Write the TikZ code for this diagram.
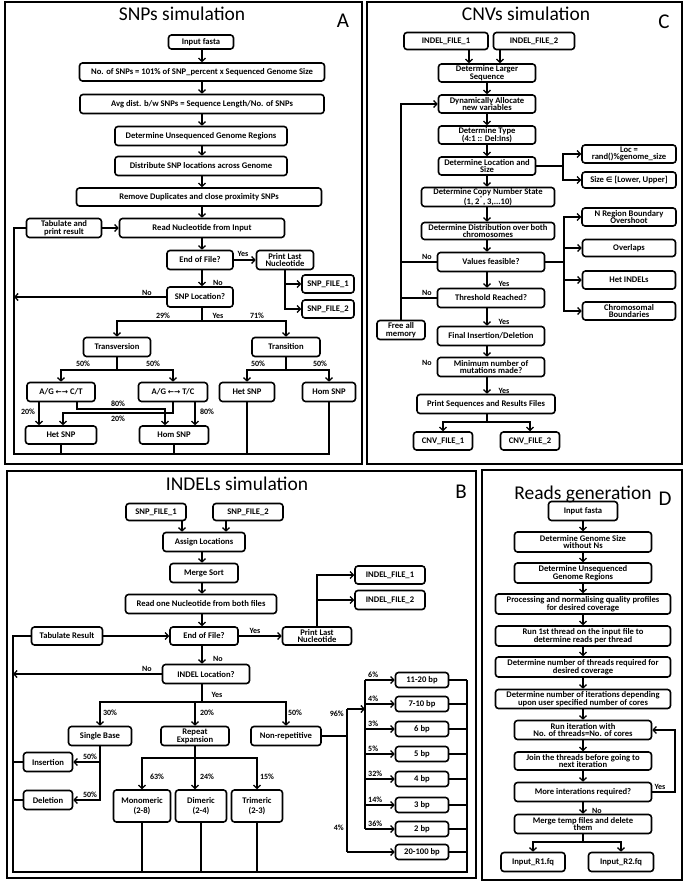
\documentclass[tikz,border=0pt]{standalone}
\usepackage{fontspec}
\setmainfont{Carlito}
\newfontfamily\djv{DejaVu Sans}
\usetikzlibrary{arrows.meta}
\newcommand\bxf{\bfseries\fontsize{8.6}{7.8}\selectfont}
\newcommand\lbf{\bfseries\fontsize{8}{8}\selectfont}
\newcommand\ttf{\fontsize{19.5}{20}\selectfont}
\newcommand\ltf{\fontsize{21}{21}\selectfont}
\newcommand\lra{{\djv\bfseries\fontsize{7.4}{7}\selectfont ←→}}
\tikzset{
 box/.style={draw, rounded corners=3pt, line width=1.6pt, align=center, font=\bxf, inner sep=0pt},
 wh/.style 2 args={minimum width=#1pt, minimum height=#2pt},
 arr/.style={line width=1.3pt, -{Straight Barb[length=3.2pt,width=7pt]}},
 ln/.style={line width=1.3pt},
 lab/.style={font=\lbf, inner sep=0pt},
 frm/.style={line width=2.6pt},
 ttl/.style={font=\ttf, inner sep=0pt, anchor=base},
 ltr/.style={font=\ltf, inner sep=0pt, anchor=base}
}
\begin{document}
\begin{tikzpicture}[x=1pt,y=-1pt]
\useasboundingbox (0,0) rectangle (685,888);
\fill[white] (0,0) rectangle (685,888);
% frames
\draw[frm] (5,2) rectangle (362,464);
\draw[frm] (367,2) rectangle (682,464);
\draw[frm] (7,471) rectangle (476,878);
\draw[frm] (482,470) rectangle (682,880);
% titles
\node[ttl] (tA) at (182,20.5) {SNPs simulation};
\node[ltr] (lA) at (343,28) {A};
\node[ttl] (tC) at (526,20.5) {CNVs simulation};
\node[ltr] (lC) at (664,29) {C};
\node[ttl] (tB) at (237,490) {INDELs simulation};
\node[ltr] (lB) at (461,498) {B};
\node[ttl] (tD) at (583,499) {Reads generation};
\node[ltr] (lD) at (665,505) {D};

% ================= Panel A
\coordinate (aX) at (202,0);
\node[box,wh={65}{14}] (a1) at (201,42) {Input fasta};
\node[box,wh={245}{18}] (a2) at (202,72) {No. of SNPs = 101\% of SNP\_percent x Sequenced Genome Size};
\node[box,wh={244}{19}] (a3) at (202,104) {Avg dist. b/w SNPs = Sequence Length/No. of SNPs};
\node[box,wh={172}{19}] (a4) at (201,136) {Determine Unsequenced Genome Regions};
\node[box,wh={172}{19}] (a5) at (201,166) {Distribute SNP locations across Genome};
\node[box,wh={245}{18}] (a6) at (199,197) {Remove Duplicates and close proximity SNPs};
\node[box,wh={75}{19}] (aTab) at (64,228) {Tabulate and\\print result};
\node[box,wh={165}{19}] (aRead) at (202,228) {Read Nucleotide from Input};
\node[box,wh={66}{19}] (aEOF) at (200,260) {End of File?};
\node[box,wh={57}{19}] (aPrint) at (285,260) {Print Last\\Nucleotide};
\node[box,wh={52}{18}] (aF1) at (328,284) {SNP\_FILE\_1};
\node[box,wh={52}{18}] (aF2) at (328,309) {SNP\_FILE\_2};
\node[box,wh={66}{20}] (aLoc) at (200,297) {SNP Location?};
\node[box,wh={67}{19}] (aTv) at (117,347) {Transversion};
\node[box,wh={68}{19}] (aTs) at (286,347) {Transition};
\node[box,wh={68}{19}] (aCT) at (61,392) {A/G \lra{} C/T};
\node[box,wh={69}{19}] (aTC) at (173,392) {A/G \lra{} T/C};
\node[box,wh={55}{19}] (aHet2) at (247,392) {Het SNP};
\node[box,wh={53}{19}] (aHom2) at (329,392) {Hom SNP};
\node[box,wh={71}{18}] (aHet1) at (61,435) {Het SNP};
\node[box,wh={69}{18}] (aHom1) at (174,435) {Hom SNP};

\foreach \p/\q in {a1/a2,a2/a3,a3/a4,a4/a5,a5/a6,a6/aRead,aRead/aEOF,aEOF/aLoc}
  \draw[arr] (\p.south -| aX) -- (\q.north -| aX);
\draw[arr] (aTab) -- (aRead);
\draw[arr] (aEOF) -- (aPrint);
\draw[arr] (aPrint.south) |- (aF1);
\draw[arr] (aPrint.south) |- (aF2);
\coordinate (aLx) at (14,454);
\draw[arr] (aLoc.west) -- (aLoc.west -| aLx);
\draw[ln] (aTab.west) -| (aLx) -- (aHom2.south |- aLx) -- (aHom2.south);
\draw[ln] (aHet1.south) -- (aHet1.south |- aLx);
\draw[ln] (aHom1.south) -- (aHom1.south |- aLx);
\draw[ln] (aHet2.south) -- (aHet2.south |- aLx);
\coordinate (aS1) at (202,321);
\draw[ln] (aLoc.south -| aS1) -- (aS1);
\draw[arr] (aS1) -| (aTv);
\draw[arr] (aS1) -| (aTs);
\coordinate (aS2) at (117,370);
\draw[ln] (aTv.south) -- (aS2);
\draw[arr] (aS2) -| (aCT);
\draw[arr] (aS2) -| (aTC);
\coordinate (aS3) at (286,370);
\draw[ln] (aTs.south) -- (aS3);
\draw[arr] (aS3) -| (aHet2);
\draw[arr] (aS3) -| (aHom2);
\draw[arr] ([xshift=-22pt]aCT.south) -- ([xshift=-22pt]aCT.south |- aHet1.north);
\coordinate (aM1) at (165,409);
\draw[arr] ([xshift=16pt]aCT.south) |- (aM1) -- (aM1 |- aHom1.north);
\coordinate (aM2) at (63,413);
\draw[arr] (aTC.south) |- (aM2) -- (aM2 |- aHet1.north);
\draw[arr] ([xshift=22pt]aTC.south) -- ([xshift=22pt]aTC.south |- aHom1.north);

\node[lab] (lA1) at (243,254) {Yes};
\node[lab] (lA2) at (218,283) {No};
\node[lab] (lA3) at (147,293) {No};
\node[lab] (lA4) at (163,316) {29\%};
\node[lab] (lA5) at (218,316) {Yes};
\node[lab] (lA6) at (257,316) {71\%};
\node[lab] (lA7) at (83,364) {50\%};
\node[lab] (lA8) at (153,364) {50\%};
\node[lab] (lA9) at (258,364) {50\%};
\node[lab] (lA10) at (320,364) {50\%};
\node[lab] (lA11) at (28,412) {20\%};
\node[lab] (lA12) at (118,404) {80\%};
\node[lab] (lA13) at (118,419) {20\%};
\node[lab] (lA14) at (207,412) {80\%};

% ================= Panel C
\coordinate (cX) at (487,0);
\node[box,wh={84}{17}] (cF1) at (446,41) {INDEL\_FILE\_1};
\node[box,wh={81}{17}] (cF2) at (534,41) {INDEL\_FILE\_2};
\node[box,wh={97}{18}] (cLarge) at (487,73) {Determine Larger\\Sequence};
\node[box,wh={97}{18}] (cDyn) at (487,104) {Dynamically Allocate\\new variables};
\node[box,wh={97}{18}] (cType) at (487,135) {Determine Type\\(4:1 :: Del:Ins)};
\node[box,wh={97}{18}] (cLocS) at (487,166) {Determine Location and\\Size};
\node[box,wh={94}{18}] (cLoc) at (629,154) {Loc =\\rand()\%genome\_size};
\node[box,wh={94}{16}] (cSize) at (629,180) {Size {\djv\bfseries\fontsize{7.4}{7}\selectfont ∈} [Lower, Upper]};
\node[box,wh={133}{19}] (cCopy) at (488,197) {Determine Copy Number State\\(1, 2\textsuperscript{*}, 3,...10)};
\node[box,wh={94}{18}] (cNreg) at (629,217) {N Region Boundary\\Overshoot};
\node[box,wh={133}{17}] (cDist) at (488,231) {Determine Distribution over both\\chromosomes};
\node[box,wh={107}{19}] (cVal) at (491,262) {Values feasible?};
\node[box,wh={93}{17}] (cOver) at (629,248) {Overlaps};
\node[box,wh={93}{18}] (cHet) at (629,280) {Het INDELs};
\node[box,wh={93}{18}] (cChr) at (629,311) {Chromosomal\\Boundaries};
\node[box,wh={107}{19}] (cThr) at (491,298) {Threshold Reached?};
\node[box,wh={48}{19}] (cFree) at (401,330) {Free all\\memory};
\node[box,wh={107}{19}] (cFin) at (491,336) {Final Insertion/Deletion};
\node[box,wh={107}{19}] (cMin) at (491,367) {Minimum number of\\mutations made?};
\node[box,wh={138}{19}] (cPrint) at (486,404) {Print Sequences and Results Files};
\node[box,wh={59}{18}] (cCNV1) at (443,441) {CNV\_FILE\_1};
\node[box,wh={59}{18}] (cCNV2) at (530,441) {CNV\_FILE\_2};

\draw[arr] ([xshift=23pt]cF1.south) -- ([xshift=23pt]cF1.south |- cLarge.north);
\draw[arr] ([xshift=-34pt]cF2.south) -- ([xshift=-34pt]cF2.south |- cLarge.north);
\foreach \p/\q in {cLarge/cDyn,cDyn/cType,cType/cLocS,cLocS/cCopy,cCopy/cDist,cDist/cVal,cVal/cThr,cThr/cFin,cFin/cMin,cMin/cPrint}
  \draw[arr] (\p.south -| cX) -- (\q.north -| cX);
\coordinate (cB1) at (563,166);
\draw[ln] (cLocS.east) -- (cB1);
\draw[arr] (cB1) |- (cLoc);
\draw[arr] (cB1) |- (cSize);
\coordinate (cB2) at (564,262);
\draw[ln] (cVal.east) -- (cB2);
\foreach \t in {cNreg,cOver,cHet,cChr} \draw[arr] (cB2) |- (\t);
\draw[arr] (cFree.north) |- (cDyn.west);
\draw[ln] (cVal.west) -- (cVal.west -| cFree.north);
\draw[ln] (cThr.west) -- (cThr.west -| cFree.north);
\coordinate (cS) at (487,422);
\draw[ln] (cPrint.south -| cS) -- (cS);
\draw[arr] (cS) -| (cCNV1);
\draw[arr] (cS) -| (cCNV2);
\node[lab] (lC1) at (427,257) {No};
\node[lab] (lC2) at (427,293) {No};
\node[lab] (lC3) at (427,363) {No};
\node[lab] (lC4) at (504,284) {Yes};
\node[lab] (lC5) at (504,322) {Yes};
\node[lab] (lC6) at (504,391) {Yes};

% ================= Panel B
\coordinate (bX) at (202,0);
\node[box,wh={60}{17}] (bF1) at (156,512) {SNP\_FILE\_1};
\node[box,wh={70}{17}] (bF2) at (248,512) {SNP\_FILE\_2};
\node[box,wh={82}{19}] (bAssign) at (204,542) {Assign Locations};
\node[box,wh={68}{19}] (bMerge) at (204,573) {Merge Sort};
\node[box,wh={151}{19}] (bRead) at (201,604) {Read one Nucleotide from both files};
\node[box,wh={68}{18}] (bEOF) at (204,636) {End of File?};
\node[box,wh={71}{18}] (bTab) at (67,636) {Tabulate Result};
\node[box,wh={69}{18}] (bPrint) at (317,636) {Print Last\\Nucleotide};
\node[box,wh={70}{18}] (bI1) at (390,575) {INDEL\_FILE\_1};
\node[box,wh={70}{19}] (bI2) at (390,600) {INDEL\_FILE\_2};
\node[box,wh={87}{19}] (bLoc) at (206,674) {INDEL Location?};
\node[box,wh={63}{19}] (bSingle) at (100,736) {Single Base};
\node[box,wh={68}{19}] (bRep) at (195,736) {Repeat\\Expansion};
\node[box,wh={70}{19}] (bNon) at (286,736) {Non-repetitive};
\node[box,wh={49}{19}] (bIns) at (48,762) {Insertion};
\node[box,wh={49}{19}] (bDel) at (48,800) {Deletion};
\node[box,wh={57}{32}] (bMono) at (142,806) {Monomeric\\[1.5pt](2-8)};
\node[box,wh={51}{32}] (bDi) at (201,806) {Dimeric\\[1.5pt](2-4)};
\node[box,wh={51}{32}] (bTri) at (257,806) {Trimeric\\[1.5pt](2-3)};
\node[box,wh={53}{15}] (b11) at (422,680) {11-20 bp};
\node[box,wh={53}{15}] (b7) at (422,704) {7-10 bp};
\node[box,wh={53}{15}] (b6) at (422,729) {6 bp};
\node[box,wh={53}{15}] (b5) at (422,754) {5 bp};
\node[box,wh={53}{15}] (b4) at (422,779) {4 bp};
\node[box,wh={53}{15}] (b3) at (422,805) {3 bp};
\node[box,wh={53}{15}] (b2) at (422,829) {2 bp};
\node[box,wh={53}{15}] (b20) at (422,852) {20-100 bp};

\draw[arr] ([xshift=26pt]bF1.south) -- ([xshift=26pt]bF1.south |- bAssign.north);
\draw[arr] ([xshift=-22pt]bF2.south) -- ([xshift=-22pt]bF2.south |- bAssign.north);
\foreach \p/\q in {bAssign/bMerge,bMerge/bRead,bRead/bEOF,bEOF/bLoc}
  \draw[arr] (\p.south -| bX) -- (\q.north -| bX);
\draw[arr] (bTab) -- (bEOF);
\draw[arr] (bEOF) -- (bPrint);
\draw[arr] (bPrint.north) |- (bI1);
\draw[arr] (bPrint.north) |- (bI2);
\coordinate (bLx) at (13,872);
\coordinate (bRx) at (467,872);
\draw[arr] (bLoc.west) -- (bLoc.west -| bLx);
\draw[ln] (bTab.west) -| (bLx) -- (bRx) -- (bRx |- b11.east);
\draw[ln] (bIns.west) -- (bIns.west -| bLx);
\draw[ln] (bDel.west) -- (bDel.west -| bLx);
\foreach \t in {bMono,bDi,bTri} \draw[ln] (\t.south) -- (\t.south |- bLx);
\foreach \t in {b11,b7,b6,b5,b4,b3,b2,b20} \draw[ln] (\t.east) -- (\t.east -| bRx);
\coordinate (bS1) at (202,702);
\draw[ln] (bLoc.south -| bS1) -- (bS1);
\draw[arr] (bS1) -| (bSingle);
\draw[arr] (bS1) -| (bRep);
\draw[arr] (bS1) -| (bNon);
\draw[arr] (bSingle.south) |- (bIns);
\draw[arr] (bSingle.south) |- (bDel);
\coordinate (bS2) at (195,758);
\draw[ln] (bRep.south) -- (bS2);
\draw[arr] (bS2) -| (bMono);
\draw[arr] (bS2) -| (bTri);
\draw[arr] (bS2) -- (bS2 |- bDi.north);
\coordinate (bV) at (347,709);
\coordinate (bW) at (365,709);
\draw[ln] (bNon.east) -- (bNon.east -| bV);
\draw[ln] (bV) -- (bV |- b20);
\draw[arr] (bV) -- (bW);
\draw[arr] (bV |- b20) -- (b20);
\draw[ln] (bW |- b11) -- (bW |- b2);
\foreach \t in {b11,b7,b6,b5,b4,b3,b2} \draw[arr] (bW |- \t) -- (\t);

\node[lab] (lB1) at (255,631) {Yes};
\node[lab] (lB2) at (218,659) {No};
\node[lab] (lB3) at (147,669) {No};
\node[lab] (lB4) at (217,695) {Yes};
\node[lab] (lB5) at (110,713) {30\%};
\node[lab] (lB6) at (207,713) {20\%};
\node[lab] (lB7) at (295,713) {50\%};
\node[lab] (lB8) at (90,757) {50\%};
\node[lab] (lB9) at (90,795) {50\%};
\node[lab] (lB10) at (157,777) {63\%};
\node[lab] (lB11) at (207,777) {24\%};
\node[lab] (lB12) at (267,777) {15\%};
\node[lab,anchor=east] (lB13) at (344,714) {96\%};
\node[lab,anchor=east] (lB14) at (344,828) {4\%};
\node[lab,anchor=west] (lB15) at (368,675) {6\%};
\node[lab,anchor=west] (lB16) at (368,699) {4\%};
\node[lab,anchor=west] (lB17) at (368,724) {3\%};
\node[lab,anchor=west] (lB18) at (368,749) {5\%};
\node[lab,anchor=west] (lB19) at (368,774) {32\%};
\node[lab,anchor=west] (lB20) at (368,800) {14\%};
\node[lab,anchor=west] (lB21) at (368,824) {36\%};

% ================= Panel D
\coordinate (dX) at (583,0);
\node[box,wh={69}{19}] (dIn) at (583,511) {Input fasta};
\node[box,wh={137}{20}] (dGen) at (583,542) {Determine Genome Size\\without Ns};
\node[box,wh={137}{20}] (dUns) at (583,573) {Determine Unsequenced\\Genome Regions};
\node[box,wh={175}{20}] (dProc) at (583,604) {Processing and normalising quality profiles\\for desired coverage};
\node[box,wh={175}{20}] (dRun1) at (583,636) {Run 1st thread on the input file to\\determine reads per thread};
\node[box,wh={175}{20}] (dThr) at (583,667) {Determine number of threads required for\\desired coverage};
\node[box,wh={175}{19}] (dIter) at (583,699) {Determine number of iterations depending\\upon user specified number of cores};
\node[box,wh={137}{19}] (dRunI) at (583,730) {Run iteration with\\No. of threads=No. of cores};
\node[box,wh={137}{18}] (dJoin) at (583,761) {Join the threads before going to\\next iteration};
\node[box,wh={137}{19}] (dMore) at (583,792) {More interations required?};
\node[box,wh={137}{19}] (dMerge) at (583,824) {Merge temp files and delete\\them};
\node[box,wh={64}{19}] (dR1) at (533,862) {Input\_R1.fq};
\node[box,wh={65}{19}] (dR2) at (621,862) {Input\_R2.fq};

\foreach \p/\q in {dIn/dGen,dGen/dUns,dUns/dProc,dProc/dRun1,dRun1/dThr,dThr/dIter,dIter/dRunI,dRunI/dJoin,dJoin/dMore,dMore/dMerge}
  \draw[arr] (\p.south -| dX) -- (\q.north -| dX);
\coordinate (dL) at (675,792);
\draw[arr] (dMore.east) -- (dL) |- (dRunI.east);
\coordinate (dS) at (583,842);
\draw[ln] (dMerge.south) -- (dS);
\draw[arr] (dS) -| (dR1);
\draw[arr] (dS) -| (dR2);
\node[lab] (lD1) at (660,787) {Yes};
\node[lab] (lD2) at (597,811) {No};
\end{tikzpicture}
\end{document}
